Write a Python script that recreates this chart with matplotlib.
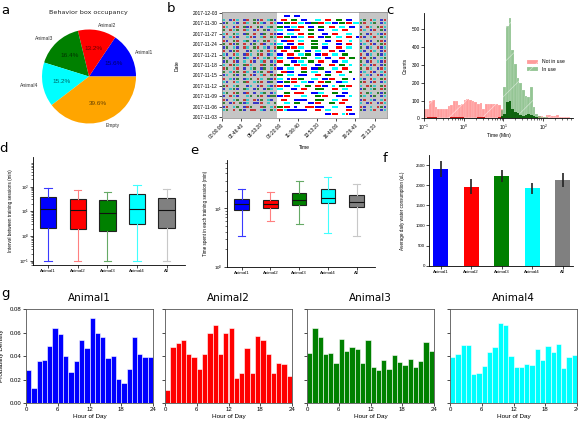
import numpy as np
import matplotlib
matplotlib.use("Agg")
import matplotlib.pyplot as plt
from matplotlib.ticker import LogLocator, NullFormatter, FixedLocator

plt.rcParams['font.family'] = ['Liberation Sans', 'DejaVu Sans']
plt.rcParams['axes.linewidth'] = 0.6
plt.rcParams['hatch.linewidth'] = 0.5

# ---------------- data ----------------
GROUPS = ['Animal1', 'Animal2', 'Animal3', 'Animal4', 'All']
COLORS = ['#0000ff', '#ff0000', '#008000', '#00ffff', '#808080']
WHISK_COLORS = ['#3a3aff', '#ff8080', '#66aa66', '#40ffff', '#c8c8c8']

# (a) pie
PIE_LABELS = ['Animal1', 'Animal2', 'Animal3', 'Animal4', 'Empty']
PIE_SHARES = [15.6, 13.2, 16.4, 15.2, 39.6]
PIE_COLORS = ['#0000ff', '#ff0000', '#008000', '#00ffff', '#ffa500']

# (b) raster: rows from 2017-11-04 (bottom) to 2017-12-02 (top)
# each row = (00:00-08:00, 08:00-20:00, 20:00-24:00) in 30-min slots
RASTER = [
    ("................", "..............bbrr.crbb.", "........"),
    ("cg.r.gb.rr.cb.gc", "rrcbbbbbb..rr.cc....rr..", "gb.cr.bc"),
    ("br.cg.brg..rg.cr", "ggrr.b..rrrbbb..cc..bb..", "rb.c.rgb"),
    ("g.br.gbc.bbr.c.g", "..cc.gg..bbrr..gg.rr....", "c.br.brc"),
    ("rb.cg.rc.rbg.cb.", ".rr..bbbb..ggg..cc.rr...", "br.cb.cr"),
    ("b.rcb..cg.gr.bgg", "bbrr...cc..ggrr..bbb.c..", "gc.bg.bc"),
    ("cg.rg.br.b.cg.bc", "..gg.rrr..bbcc..gg.bb...", "r.gc.gbg"),
    ("b.cgb.gc.bg.bgc.", "cc..bb.rr..ggg..rr.cc...", "bg.cg.rg"),
    ("gr.cg..bc.br.cbr", "rrbb.cc.gg.rrbb.c.ggrr..", "c.rgc.gr"),
    ("cb.rc.gr.cgr.bg.", "bbggrr.ccbb.rrgg.bbcc...", "gr.br.bc"),
    ("r.cbg.bcg.rc.gbr", "cc.brrgg..cc.bbrr..gg.b.", "cb.rc.gr"),
    ("bc.gb.g.rb.cr.gr", "gg.cc.bbb..rr.gg..cc....", "r.cb.rbc"),
    ("g.crg.rc.bcg.rb.", ".rrbb..gg.cc..bb.rr..g..", "bc.rb.cr"),
    ("rg.cr.b.cg.bg.cr", "bb.cc..rr.bbgg..cc.rr...", "g.rc.brc"),
    ("c.rgc.grc..rg.gb", "..gg.rrcc..bb..rr.gg.c..", "rc.br.bg"),
    ("bg.rb.c.rb.cr.bc", "rr..bbcc.gg.rr..bb.cc...", "g.br.cbr"),
    ("g.bcg.bc.br.cg.r", "cc.bbrrgg..cc.bb..rr.gg.", "br.gb.cg"),
    ("cb.rc.brc.gr.bc.", "bb.rr.ccgg.bbrr.cc.gg...", "r.bc.gbc"),
    ("r.bgr..bg.cg.rcb", ".rr..gg.bb.cc..rr.bb....", "cb.rc.br"),
    ("bg.cb.rc.gr.cb.r", "ggbbrrcc..gg.bb..rr.cc..", "g.bc.rbc"),
    ("g.rbg.r.bg.rb.cb", "cc.bb.rr..gg.cc..bb.rr..", "bc.rb.gr"),
    ("rb.gr.cg.bc.gr.c", ".bbrr.cc..gg..bb.rr..c..", "c.rb.grb"),
    ("b.crb..crb.cr.gc", "rrggbbcc.rr.bbgg.cc.rr.b", "rb.cr.gc"),
    ("cr.gc.bg.r.bg.rb", "bb.cc.rr.gg..bb.rr..cc..", "g.br.cbr"),
    ("g.rcg.rc.br.gb.c", "cc.bbrr..gg.bb..cc.rr...", "rc.br.gb"),
    ("rc.br.gbr.gb.cg.", "ggbbccrr.bb.gg.rr.cc.bb.", "b.rc.grc"),
    ("bg.cb.rc.grcb.rc", "bbggrrccbbggrrccbbggrrcc", "gr.cg.bc"),
    ("c.brc.br.gbr.cgb", ".rr.gg.bb..cc.rr.gg.bb..", "cg.rc.br"),
    ("................", "..bb.bb.................", "........"),
]
RASTER_COLORS = {'b': '#0000ff', 'r': '#ff0000', 'g': '#008000', 'c': '#00ffff'}
DATE_LABELS = ['2017-11-03', '2017-11-06', '2017-11-09', '2017-11-12', '2017-11-15',
               '2017-11-18', '2017-11-21', '2017-11-24', '2017-11-27', '2017-11-30',
               '2017-12-03']
TIME_LABELS = ['00:00:00', '02:46:40', '05:33:20', '08:20:00', '11:06:40',
               '13:53:20', '16:40:00', '19:26:40', '22:13:20']

# (c) histograms, log bins of 1/15 decade from 0.1 min
NOT_IN_USE = [50, 50, 97, 105, 64, 54, 50, 50, 52, 69, 77, 97, 100, 77, 82, 105, 110,
              105, 97, 90, 82, 88, 50, 79, 80, 82, 79, 79, 75, 54, 20, 14, 10, 8, 8, 6,
              6, 5, 6, 8, 10, 8, 10, 14, 12, 10, 16, 18, 12, 14, 16, 10, 8, 6, 5, 4, 3]
IN_USE = [0, 0, 0, 0, 0, 0, 0, 0, 0, 0, 0, 0, 0, 0, 0, 0, 0, 0, 0, 0, 0, 0, 0, 0, 0,
          0, 0, 0, 0, 45, 176, 517, 565, 386, 305, 228, 200, 160, 125, 120, 178, 62,
          25, 15, 10, 8, 6, 4, 3, 3, 2, 2, 1, 1, 1, 0, 0]
NOT_IN_USE_DARK = [2, 5, 10, 9, 5, 3, 2, 2, 3, 4, 6, 8, 10, 9, 6, 4, 3, 3, 2, 4, 8, 9,
                   5, 3, 2, 2, 3, 4, 6, 8, 4, 2, 1, 0, 0, 0, 0, 0, 0, 0, 0, 0, 0, 0, 0,
                   0, 0, 0, 0, 0, 0, 0, 0, 0, 0, 0, 0]
IN_USE_DARK = [0, 0, 0, 0, 0, 0, 0, 0, 0, 0, 0, 0, 0, 0, 0, 0, 0, 0, 0, 0, 0, 0, 0, 0,
               0, 0, 0, 0, 0, 15, 22, 92, 97, 52, 37, 28, 18, 12, 20, 22, 18, 12, 6, 4,
               0, 0, 0, 0, 0, 0, 0, 0, 0, 0, 0, 0, 0]

# (d) interval between sessions (min)
D_LO = [0.1, 0.1, 0.1, 0.1, 0.1]
D_Q1 = [2.2, 1.96, 1.63, 3.2, 2.09]
D_MED = [12.4, 11.0, 8.6, 12.4, 11.3]
D_Q3 = [38.6, 32.0, 27.5, 49.0, 35.0]
D_HI = [91, 74, 59, 120, 83]

# (e) time spent per session (min)
E_LO = [3.4, 6.15, 5.46, 3.83, 3.4]
E_Q1 = [9.6, 10.1, 11.4, 12.2, 10.7]
E_MED = [12.0, 11.9, 13.9, 15.4, 12.8]
E_Q3 = [14.6, 13.9, 18.8, 21.2, 16.9]
E_HI = [21.4, 19.3, 30.2, 34.9, 26.8]

# (f) water consumption (uL)
WATER = [2410, 1962, 2227, 1920, 2127]
WATER_ERR = [195, 180, 150, 145, 180]

# (g) hour of day density
HOURS = list(range(24))
HOUR_DENS = {
    'Animal1': [0.028, 0.013, 0.036, 0.0366, 0.0487, 0.064, 0.059, 0.0397, 0.026, 0.0355,
                0.054, 0.047, 0.072, 0.060, 0.056, 0.038, 0.0397, 0.0203, 0.0172, 0.029,
                0.0563, 0.042, 0.039, 0.039],
    'Animal2': [0.0107, 0.0473, 0.0513, 0.054, 0.042, 0.0394, 0.029, 0.0417, 0.060, 0.066,
                0.0417, 0.060, 0.0637, 0.0217, 0.0254, 0.0465, 0.0254, 0.057, 0.054, 0.042,
                0.0254, 0.034, 0.033, 0.0234],
    'Animal3': [0.0423, 0.0637, 0.0558, 0.042, 0.0428, 0.0338, 0.0546, 0.0445, 0.0476,
                0.0456, 0.0338, 0.054, 0.0304, 0.0285, 0.0363, 0.0287, 0.0408, 0.0346,
                0.0321, 0.0377, 0.0307, 0.0358, 0.0515, 0.0442],
    'Animal4': [0.0389, 0.0417, 0.049, 0.049, 0.025, 0.0254, 0.0315, 0.0434, 0.0473, 0.068,
                0.066, 0.040, 0.0304, 0.031, 0.0332, 0.0327, 0.0456, 0.0369, 0.0485, 0.0437,
                0.050, 0.030, 0.0389, 0.0406],
}

# ---------------- figure ----------------
W, H = 578, 423
fig = plt.figure(figsize=(W / 100, H / 100), dpi=100)


def rect(l, t, r, b):
    return [l / W, 1 - b / H, (r - l) / W, (b - t) / H]


def small_ticks(ax, size=3.2):
    ax.tick_params(labelsize=size, length=2, width=0.5, pad=1)
    ax.tick_params(which='minor', length=1.2, width=0.4)


def despine(ax):
    ax.spines['top'].set_visible(False)
    ax.spines['right'].set_visible(False)


LET = dict(fontsize=9.5, family='DejaVu Sans', ha='center', va='center')
for ch, (x, y) in zip('abcdefg', [(5, 10), (171, 9), (390, 10), (4, 149),
                                   (194, 151), (385, 158), (6, 293)]):
    fig.text(x / W, 1 - y / H, ch, **LET)

# (a) pie
axa = fig.add_axes(rect(30.25, 17.75, 147.75, 135.25))
wedges, texts, autotexts = axa.pie(
    PIE_SHARES, labels=PIE_LABELS, colors=PIE_COLORS, autopct='%1.1f%%',
    startangle=0, textprops=dict(fontsize=3.6, color='#333333'))
for t in autotexts:
    t.set_fontsize(4.6)
    t.set_color((0, 0, 0, 0.6))
axa.set_xlim(-1.25, 1.25)
axa.set_ylim(-1.25, 1.25)
axa.set_aspect('equal')
fig.text(88 / W, 1 - 12.5 / H, 'Behavior box occupancy', ha='center', va='center',
         fontsize=4.6, family='DejaVu Sans', color='#222222')

# (b) raster
axb = fig.add_axes(rect(222, 12.3, 386.7, 118))
SLOT = 1800
for i, parts in enumerate(RASTER):
    y = i + 1
    for part, start_h in zip(parts, (0, 8, 20)):
        j = 0
        while j < len(part):
            ch = part[j]
            k = j
            while k < len(part) and part[k] == ch:
                k += 1
            if ch in RASTER_COLORS:
                axb.broken_barh([(start_h * 3600 + j * SLOT + 150, (k - j) * SLOT - 400)],
                                (y - 0.3, 0.6), facecolors=RASTER_COLORS[ch],
                                linewidth=0, zorder=2)
            j = k
axb.axvspan(0, 8 * 3600, color='#808080', alpha=0.45, lw=0, zorder=3)
axb.axvspan(20 * 3600, 86400, color='#808080', alpha=0.45, lw=0, zorder=3)
axb.set_xlim(0, 86400)
axb.set_ylim(-0.2, 30.1)
axb.set_xticks(np.arange(0, 86400, 10000))
axb.set_xticklabels(TIME_LABELS, rotation=45, ha='right', va='top',
                    rotation_mode='anchor')
axb.set_yticks(np.arange(0, 31, 3))
axb.set_yticklabels(DATE_LABELS)
small_ticks(axb, 3.5)
for s in axb.spines.values():
    s.set_color('#999999')
axb.set_xlabel('Time', fontsize=3.6)
axb.xaxis.set_label_coords(0.5, -0.255)
axb.set_ylabel('Date', fontsize=3.6)
axb.yaxis.set_label_coords(-0.255, 0.5)

# (c) histograms
axc = fig.add_axes(rect(424, 13, 573, 118.3))
edges = 10 ** (-1 + np.arange(len(NOT_IN_USE) + 1) / 15)
centers = np.sqrt(edges[:-1] * edges[1:])
_, _, p1 = axc.hist(centers, bins=edges, weights=NOT_IN_USE, color='#ff5a5a',
                    alpha=0.6, edgecolor='white', linewidth=0.2, hatch='/',
                    label='Not in use', zorder=2)
_, _, p2 = axc.hist(centers, bins=edges, weights=IN_USE, color='#3c963c',
                    alpha=0.55, edgecolor='white', linewidth=0.2, hatch='/',
                    label='In use', zorder=2)
axc.hist(centers, bins=edges, weights=NOT_IN_USE_DARK, color='#c00000', alpha=0.9,
         linewidth=0, zorder=3)
axc.hist(centers, bins=edges, weights=IN_USE_DARK, color='#005a00', alpha=0.9,
         linewidth=0, zorder=3)
axc.set_xscale('log')
axc.set_xlim(0.1, 10 ** 2.75)
axc.set_ylim(0, 592)
axc.set_yticks([0, 100, 200, 300, 400, 500])
despine(axc)
small_ticks(axc, 3.5)
axc.set_xlabel('Time (Min)', fontsize=3.6)
axc.xaxis.set_label_coords(0.5, -0.14)
axc.set_ylabel('Counts', fontsize=3.6)
axc.yaxis.set_label_coords(-0.107, 0.5)
axc.legend(handles=[p1[0], p2[0]], labels=['Not in use', 'In use'], frameon=False,
           fontsize=3.6, loc='center left', bbox_to_anchor=(0.66, 0.5),
           handlelength=2.2, handleheight=0.9, labelspacing=0.5)


# (d),(e) boxplots
def boxes(ax, lo, q1, med, q3, hi, width, capw):
    stats = [dict(whislo=a, q1=b, med=c, q3=d, whishi=e, fliers=[], label=g)
             for a, b, c, d, e, g in zip(lo, q1, med, q3, hi, GROUPS)]
    bp = ax.bxp(stats, positions=range(1, 6), widths=width, patch_artist=True,
                showfliers=False, capwidths=capw,
                boxprops=dict(edgecolor='#222222', linewidth=0.8),
                medianprops=dict(color='#111111', linewidth=0.8))
    for i in range(5):
        bp['boxes'][i].set_facecolor(COLORS[i])
        for art in bp['whiskers'][2 * i:2 * i + 2] + bp['caps'][2 * i:2 * i + 2]:
            art.set_color(WHISK_COLORS[i])
            art.set_linewidth(0.8)
    ax.set_yscale('log')
    despine(ax)
    small_ticks(ax, 3.2)


axd = fig.add_axes(rect(33.3, 156.7, 185, 265))
boxes(axd, D_LO, D_Q1, D_MED, D_Q3, D_HI, 0.55, 0.25)
axd.set_ylim(10 ** -1.16, 10 ** 3.2)
axd.yaxis.set_major_locator(FixedLocator([0.1, 1, 10, 100]))
axd.yaxis.set_minor_locator(LogLocator(base=10, subs=np.arange(2, 10), numticks=20))
axd.yaxis.set_minor_formatter(NullFormatter())
axd.set_xlim(0.5, 5.62)
axd.set_ylabel('Interval between training sessions (min)', fontsize=3.3)
axd.yaxis.set_label_coords(-0.136, 0.5)

axe = fig.add_axes(rect(226.7, 160, 375, 266.7))
boxes(axe, E_LO, E_Q1, E_MED, E_Q3, E_HI, 0.5, 0.25)
axe.set_ylim(1, 68)
axe.yaxis.set_major_locator(FixedLocator([1, 10]))
axe.yaxis.set_minor_locator(LogLocator(base=10, subs=np.arange(2, 10), numticks=20))
axe.yaxis.set_minor_formatter(NullFormatter())
axe.set_xlim(0.48, 5.64)
axe.set_ylabel('Time spent in each training session (min)', fontsize=3.3)
axe.yaxis.set_label_coords(-0.126, 0.5)

# (f) bars
axf = fig.add_axes(rect(429, 155, 573, 265.7))
axf.bar(range(5), WATER, width=0.49, color=COLORS, yerr=WATER_ERR,
        error_kw=dict(ecolor='#222222', elinewidth=1.2, capsize=0))
axf.set_xticks(range(5))
axf.set_xticklabels(GROUPS)
axf.set_xlim(-0.38, 4.34)
axf.set_ylim(0, 2750)
axf.set_yticks([0, 500, 1000, 1500, 2000, 2500])
despine(axf)
small_ticks(axf, 3.2)
axf.set_ylabel('Average daily water consumption (uL)', fontsize=3.3)
axf.yaxis.set_label_coords(-0.167, 0.5)

# (g) hour-of-day histograms
G_LEFTS = [26, 165, 307, 450]
for n, (name, col) in enumerate(zip(GROUPS[:4], COLORS[:4])):
    ax = fig.add_axes(rect(G_LEFTS[n], 309, G_LEFTS[n] + 127, 403))
    ax.bar(HOURS, HOUR_DENS[name], width=1, align='edge', color=col,
           edgecolor='white', linewidth=0.4)
    ax.set_xlim(0, 24)
    ax.set_ylim(0, 0.08)
    ax.set_xticks([0, 6, 12, 18, 24])
    ax.set_yticks([0, 0.02, 0.04, 0.06, 0.08])
    for s in ax.spines.values():
        s.set_color('#555555')
    small_ticks(ax, 4.3)
    if n == 0:
        ax.set_yticklabels(['0.00', '0.02', '0.04', '0.06', '0.08'])
        ax.set_ylabel('Probability Density', fontsize=4.6)
        ax.yaxis.set_label_coords(-0.173, 0.5)
    else:
        ax.set_yticklabels([])
    ax.set_xlabel('Hour of Day', fontsize=4.6)
    ax.xaxis.set_label_coords(0.5, -0.115)
    ax.set_title(name, fontsize=7.5, family='DejaVu Sans', pad=6)

fig.savefig('out.png', dpi=100)
